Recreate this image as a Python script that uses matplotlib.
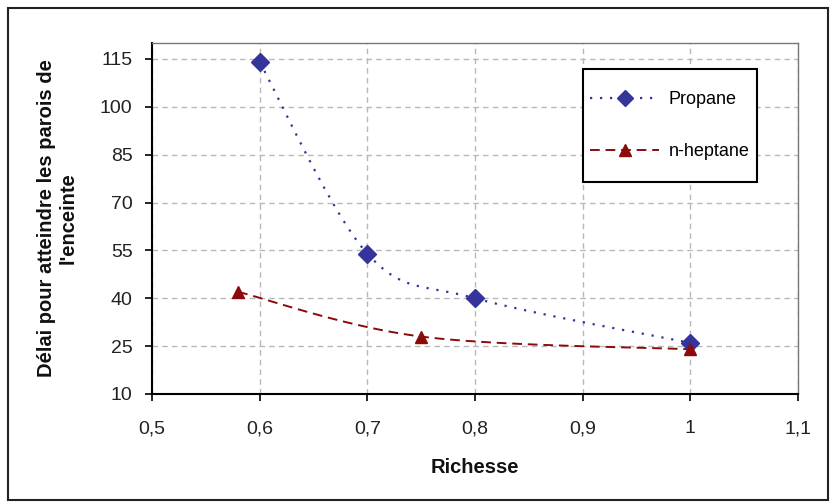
import numpy as np
import matplotlib
matplotlib.use("Agg")
import matplotlib.pyplot as plt
from matplotlib.lines import Line2D
from matplotlib.patches import Rectangle

plt.rcParams['font.family'] = ['Liberation Sans', 'DejaVu Sans']

propane_x = [0.6, 0.7, 0.8, 1.0]
propane_y = [114, 54, 40, 26]
heptane_x = [0.58, 0.75, 1.0]
heptane_y = [42, 28, 24]
x_ticks = [0.5, 0.6, 0.7, 0.8, 0.9, 1.0, 1.1]
x_tick_labels = ["0,5", "0,6", "0,7", "0,8", "0,9", "1", "1,1"]
y_ticks = [10, 25, 40, 55, 70, 85, 100, 115]


def smooth(xs, ys, n=40):
    """Excel-like smoothed line (Catmull-Rom Bezier) through the data points."""
    P = np.column_stack([xs, ys]).astype(float)
    out = []
    for i in range(len(P) - 1):
        p0 = P[i - 1] if i > 0 else P[i]
        p1 = P[i]
        p2 = P[i + 1]
        p3 = P[i + 2] if i + 2 < len(P) else P[i + 1]
        c1 = p1 + (p2 - p0) / 6.0
        c2 = p2 - (p3 - p1) / 6.0
        t = np.linspace(0, 1, n)[:, None]
        seg = ((1 - t) ** 3) * p1 + 3 * ((1 - t) ** 2) * t * c1 + 3 * (1 - t) * t ** 2 * c2 + t ** 3 * p2
        out.append(seg if i == 0 else seg[1:])
    s = np.vstack(out)
    return s[:, 0], s[:, 1]


fig = plt.figure(figsize=(8.3, 5.03), dpi=100)
fig.patches.append(Rectangle((8 / 830, 3 / 503), 820 / 830, 492 / 503, transform=fig.transFigure,
                             fill=False, edgecolor='#222222', linewidth=1.5))
ax = fig.add_axes([152 / 830, 1 - 394 / 503, 646 / 830, 351 / 503])

blue = '#34349a'
red = '#8b0a0a'
blue_ls = (0, (1, 3.5))
red_ls = (0, (5, 3))

sx, sy = smooth(propane_x, propane_y)
ax.plot(sx, sy, color=blue, linestyle=blue_ls, linewidth=1.6, zorder=3)
ax.plot(propane_x, propane_y, linestyle='none', marker='D', markersize=9, color=blue, zorder=4)

hx, hy = smooth(heptane_x, heptane_y)
ax.plot(hx, hy, color=red, linestyle=red_ls, linewidth=1.4, zorder=3)
ax.plot(heptane_x, heptane_y, linestyle='none', marker='^', markersize=9, color=red, zorder=4)

ax.set_xlim(0.5, 1.1)
ax.set_ylim(10, 120)
ax.set_xticks(x_ticks)
ax.set_xticklabels(x_tick_labels)
ax.set_yticks(y_ticks)
ax.tick_params(axis='both', labelsize=14, direction='out', length=5, width=1.2, color='black',
               labelcolor='#222222')
ax.tick_params(axis='x', pad=14)
ax.tick_params(axis='y', pad=9)
ax.grid(True, color='#b8b8b8', linestyle=(0, (4, 3)), linewidth=1.0)
ax.set_axisbelow(True)
for s in ['left', 'bottom']:
    ax.spines[s].set_linewidth(1.5)
    ax.spines[s].set_color('black')
for s in ['top', 'right']:
    ax.spines[s].set_linewidth(1.0)
    ax.spines[s].set_color('#777777')

ax.set_xlabel("Richesse", fontsize=14.5, fontweight='bold', labelpad=15, color='#111111')
ax.set_ylabel("Délai pour atteindre les parois de\nl'enceinte", fontsize=14.5, fontweight='bold',
              labelpad=16, linespacing=1.15, color='#111111')

handles = [
    Line2D([], [], color=blue, linestyle=blue_ls, linewidth=1.6, marker='D', markersize=8),
    Line2D([], [], color=red, linestyle=red_ls, linewidth=1.4, marker='^', markersize=8),
]
leg = ax.legend(handles, ["Propane", "n-heptane"], loc='center', bbox_to_anchor=(0.802, 0.765),
                fontsize=13, frameon=False, labelspacing=1.95, handlelength=3.8,
                handletextpad=0.55, borderaxespad=0, borderpad=0)
ax.add_patch(Rectangle((0.667, 0.604), 0.9365 - 0.667, 0.926 - 0.604, transform=ax.transAxes,
                       fill=True, facecolor='white', edgecolor='black', linewidth=1.5, zorder=5))
leg.set_zorder(6)

fig.savefig("out.png", dpi=100)
